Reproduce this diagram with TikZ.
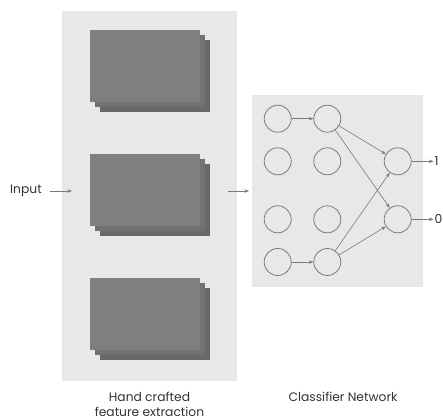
\documentclass[tikz,border=0pt]{standalone}
\usepackage{fontspec}
\setmainfont{Poppins}
\usepackage{tikz}
\usetikzlibrary{arrows.meta}

\definecolor{panelgray}{HTML}{E8E8E8}
\definecolor{cardgray}{HTML}{7F7F7F}
\definecolor{linegray}{HTML}{7A7A7A}

\tikzset{
  panel/.style={fill=panelgray, draw=none},
  card/.style={fill=cardgray, draw=none},
  neuron/.style={circle, draw=linegray, line width=0.8pt, minimum size=27pt, inner sep=0pt},
  arr/.style={draw=linegray, line width=0.6pt, -{Stealth[length=4.5pt,width=3.5pt]}},
  lbl/.style={font=\fontsize{12.3}{15}\selectfont, text=black!80, inner sep=1pt}
}

\begin{document}
\begin{tikzpicture}[x=1pt, y=-1pt]
\useasboundingbox (0,0) rectangle (443,419);

% grey panels
\fill[panel] (62,11) rectangle (237,381);
\fill[panel] (252,95) rectangle (423,287);

% hand crafted feature stacks
\foreach \y in {30,154,278}{
  \fill[card, fill=cardgray!82!black] (100,\y+10) rectangle (210,\y+82);
  \fill[card, fill=cardgray!90!black] (95,\y+5) rectangle (205,\y+77);
  \fill[card] (90,\y) rectangle (200,\y+72);
}

% input side
\node[lbl, anchor=west] (input) at (9,191) {Input};
\coordinate (feIn) at (72,191);
\coordinate (feOut) at (228,191);
\coordinate (cnIn) at (249,191);
\draw[arr, shorten <=7pt] (input.east) -- (feIn);
\draw[arr] (feOut) -- (cnIn);

% classifier network
\node[neuron] (n11) at (277.7,118.7) {};
\node[neuron] (n21) at (277.7,161.3) {};
\node[neuron] (n31) at (277.7,219.3) {};
\node[neuron] (n41) at (277.7,262) {};
\node[neuron] (n12) at (327.3,118.7) {};
\node[neuron] (n22) at (327.3,161.3) {};
\node[neuron] (n32) at (327.3,219.3) {};
\node[neuron] (n42) at (327.3,262) {};
\node[neuron] (out1) at (397.7,161.3) {};
\node[neuron] (out0) at (397.7,219.3) {};

\draw[arr] (n11) -- (n12);
\draw[arr] (n41) -- (n42);
\draw[arr] (n12) -- (out1);
\draw[arr] (n12) -- (out0);
\draw[arr] (n42) -- (out1);
\draw[arr] (n42) -- (out0);

\node[lbl, anchor=west] (lab1) at (433.5,161.3) {1};
\node[lbl, anchor=west] (lab0) at (433.5,219.3) {0};
\draw[arr] (out1) -- (lab1);
\draw[arr] (out0) -- (lab0);

% captions
\node[lbl, align=center] (feCap) at (149.5,404) {Hand crafted\\feature extraction};
\node[lbl] (cnCap) at (343,397) {Classifier Network};
\end{tikzpicture}
\end{document}
